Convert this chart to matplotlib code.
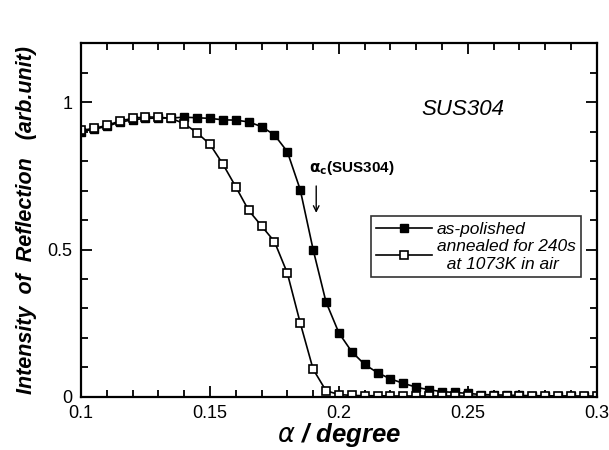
import numpy as np
import matplotlib.pyplot as plt
from matplotlib.ticker import MultipleLocator, FuncFormatter

plt.rcParams['font.family'] = ['Liberation Sans', 'DejaVu Sans']

# 入射角 (degree)
alpha = [0.100, 0.105, 0.110, 0.115, 0.120, 0.125, 0.130, 0.135, 0.140, 0.145,
         0.150, 0.155, 0.160, 0.165, 0.170, 0.175, 0.180, 0.185, 0.190, 0.195,
         0.200, 0.205, 0.210, 0.215, 0.220, 0.225, 0.230, 0.235, 0.240, 0.245,
         0.250, 0.255, 0.260, 0.265, 0.270, 0.275, 0.280, 0.285, 0.290, 0.295, 0.300]

# as-polished
polished = [0.900, 0.908, 0.918, 0.932, 0.940, 0.945, 0.946, 0.946, 0.949, 0.947,
            0.945, 0.940, 0.939, 0.933, 0.917, 0.889, 0.832, 0.703, 0.500, 0.322,
            0.217, 0.153, 0.110, 0.082, 0.061, 0.046, 0.033, 0.024, 0.018, 0.015,
            0.012, 0.008, 0.007, 0.006, 0.005, 0.004, 0.004, 0.003, 0.003, 0.002, 0.002]

# annealed for 240s at 1073K in air
annealed = [0.904, 0.911, 0.921, 0.936, 0.945, 0.950, 0.949, 0.945, 0.927, 0.896,
            0.857, 0.790, 0.713, 0.633, 0.580, 0.527, 0.420, 0.251, 0.094, 0.021,
            0.008, 0.005, 0.004, 0.004, 0.003, 0.003, 0.003, 0.003, 0.003, 0.003,
            0.002, 0.002, 0.002, 0.002, 0.002, 0.002, 0.002, 0.002, 0.002, 0.002, 0.002]

fig = plt.figure(figsize=(6.09, 4.5), dpi=100)
ax = fig.add_axes([0.133, 0.118, 0.847, 0.786])

ax.plot(alpha, polished, '-s', color='black', lw=1.2, ms=6,
        mfc='black', mec='black', label='as-polished')
ax.plot(alpha, annealed, '-s', color='black', lw=1.2, ms=6,
        mfc='white', mec='black', mew=1.2,
        label='annealed for 240s\n  at 1073K in air')

ax.set_xlim(0.1, 0.3)
ax.set_ylim(0, 1.2)
ax.xaxis.set_major_locator(MultipleLocator(0.05))
ax.xaxis.set_minor_locator(MultipleLocator(0.01))
ax.yaxis.set_major_locator(MultipleLocator(0.5))
ax.yaxis.set_minor_locator(MultipleLocator(0.1))
ax.yaxis.set_major_formatter(FuncFormatter(lambda v, p: f"{v:g}"))
ax.xaxis.set_major_formatter(FuncFormatter(lambda v, p: f"{v:g}"))
ax.tick_params(which='both', direction='in', top=True, right=True, width=1.3)
ax.tick_params(which='major', length=8, labelsize=13, pad=6)
ax.tick_params(which='minor', length=5)
for s in ax.spines.values():
    s.set_linewidth(1.6)

ax.set_xlabel(r'$\alpha$ / degree', fontsize=18.5, fontweight='bold',
              fontstyle='italic', labelpad=-1)
ax.set_ylabel('Intensity  of  Reflection   (arb.unit)', fontsize=15.5,
              fontweight='bold', fontstyle='italic', labelpad=8)

ax.text(0.232, 0.975, 'SUS304', fontsize=16, fontstyle='italic', ha='left', va='center')
ax.text(0.1885, 0.775, r'$\mathbf{\alpha_c}$(SUS304)', fontsize=11, fontweight='bold',
        ha='left', va='center')
ax.annotate('', xy=(0.1912, 0.615), xytext=(0.1912, 0.725),
            arrowprops=dict(arrowstyle='->', color='black', lw=1.0))

leg = ax.legend(loc='upper left', bbox_to_anchor=(0.545, 0.535),
                prop={'style': 'italic', 'size': 12.5}, frameon=True, fancybox=False,
                edgecolor='black', handlelength=3.2, borderpad=0.3,
                labelspacing=0.15, handletextpad=0.3)
leg.get_frame().set_linewidth(1.2)

fig.savefig('out.png', dpi=100)
